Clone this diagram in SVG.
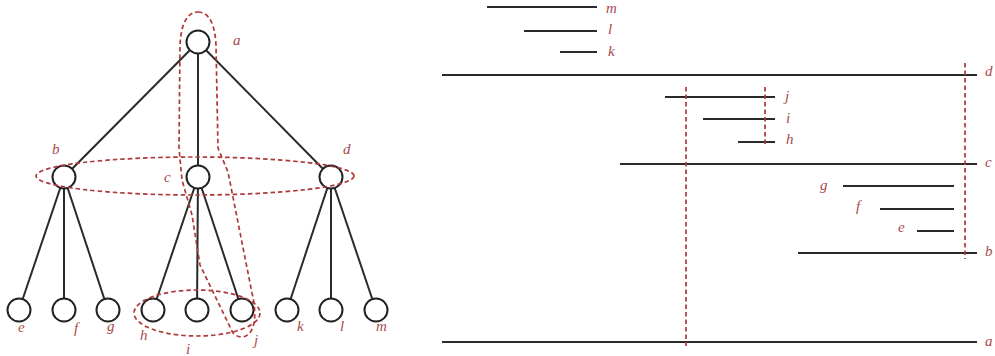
<svg xmlns="http://www.w3.org/2000/svg" width="995" height="356" viewBox="0 0 995 356">
<style>
.node{fill:#fff;stroke:#222;stroke-width:2}
.edge{stroke:#2a2a2a;stroke-width:2;fill:none}
.lbl{font-family:"Liberation Serif","DejaVu Serif",serif;font-style:italic;font-size:15px;fill:#a84a4a}
.dash{fill:none;stroke:#b03838;stroke-width:1.7;stroke-dasharray:4.5 3}
.iv{stroke:#2a2a2a;stroke-width:2}
</style>
<rect width="995" height="356" fill="#fff"/>
<g id="connectors">
<line class="edge" x1="198" y1="42" x2="64" y2="177"/>
<line class="edge" x1="198" y1="42" x2="198" y2="177"/>
<line class="edge" x1="198" y1="42" x2="331" y2="177"/>
<line class="edge" x1="64" y1="177" x2="19" y2="310"/>
<line class="edge" x1="64" y1="177" x2="64" y2="310"/>
<line class="edge" x1="64" y1="177" x2="108" y2="310"/>
<line class="edge" x1="198" y1="177" x2="153" y2="310"/>
<line class="edge" x1="198" y1="177" x2="197" y2="310"/>
<line class="edge" x1="198" y1="177" x2="242" y2="310"/>
<line class="edge" x1="331" y1="177" x2="287" y2="310"/>
<line class="edge" x1="331" y1="177" x2="331" y2="310"/>
<line class="edge" x1="331" y1="177" x2="376" y2="310"/>
</g>
<g id="node-a"><circle class="node" cx="198" cy="42" r="11.5"/><text class="lbl" x="233" y="45">a</text></g>
<g id="node-b"><circle class="node" cx="64" cy="177" r="11.5"/><text class="lbl" x="52" y="154">b</text></g>
<g id="node-c"><circle class="node" cx="198" cy="177" r="11.5"/><text class="lbl" x="164" y="182">c</text></g>
<g id="node-d"><circle class="node" cx="331" cy="177" r="11.5"/><text class="lbl" x="343" y="154">d</text></g>
<g id="node-e"><circle class="node" cx="19" cy="310" r="11.5"/><text class="lbl" x="18" y="332">e</text></g>
<g id="node-f"><circle class="node" cx="64" cy="310" r="11.5"/><text class="lbl" x="74" y="333">f</text></g>
<g id="node-g"><circle class="node" cx="108" cy="310" r="11.5"/><text class="lbl" x="107" y="331">g</text></g>
<g id="node-h"><circle class="node" cx="153" cy="310" r="11.5"/><text class="lbl" x="140" y="340">h</text></g>
<g id="node-i"><circle class="node" cx="197" cy="310" r="11.5"/><text class="lbl" x="186" y="354">i</text></g>
<g id="node-j"><circle class="node" cx="242" cy="310" r="11.5"/><text class="lbl" x="254" y="345">j</text></g>
<g id="node-k"><circle class="node" cx="287" cy="310" r="11.5"/><text class="lbl" x="297" y="331">k</text></g>
<g id="node-l"><circle class="node" cx="331" cy="310" r="11.5"/><text class="lbl" x="340" y="331">l</text></g>
<g id="node-m"><circle class="node" cx="376" cy="310" r="11.5"/><text class="lbl" x="376" y="331">m</text></g>
<g id="groups">
<ellipse class="dash" cx="195" cy="176" rx="159" ry="19"/>
<ellipse class="dash" cx="197" cy="313" rx="63" ry="23"/>
<path class="dash" d="M198 12 C209 12 215 24 216 45 L218 148 L228 172 L252 293 C258 318 254 336 242 337 C236 337 232 333 230 327 L200 265 L192 215 L182 180 L179 148 L180 45 C181 24 187 12 198 12 Z"/>
</g>
<g id="intervals">
<line class="iv" x1="487" y1="7" x2="597" y2="7"/>
<line class="iv" x1="524" y1="31" x2="597" y2="31"/>
<line class="iv" x1="560" y1="52" x2="597" y2="52"/>
<line class="iv" x1="442" y1="75" x2="977" y2="75"/>
<line class="iv" x1="665" y1="97" x2="775" y2="97"/>
<line class="iv" x1="703" y1="119" x2="775" y2="119"/>
<line class="iv" x1="738" y1="142" x2="775" y2="142"/>
<line class="iv" x1="620" y1="164" x2="977" y2="164"/>
<line class="iv" x1="843" y1="186" x2="954" y2="186"/>
<line class="iv" x1="880" y1="209" x2="954" y2="209"/>
<line class="iv" x1="917" y1="231" x2="954" y2="231"/>
<line class="iv" x1="798" y1="253" x2="977" y2="253"/>
<line class="iv" x1="442" y1="342" x2="977" y2="342"/>
<line class="dash" x1="686" y1="87" x2="686" y2="346"/>
<line class="dash" x1="765" y1="87" x2="765" y2="147"/>
<line class="dash" x1="965" y1="63" x2="965" y2="259"/>
<text class="lbl" x="606" y="13">m</text>
<text class="lbl" x="608" y="34">l</text>
<text class="lbl" x="608" y="56">k</text>
<text class="lbl" x="785" y="101">j</text>
<text class="lbl" x="786" y="123">i</text>
<text class="lbl" x="786" y="144">h</text>
<text class="lbl" x="820" y="190">g</text>
<text class="lbl" x="856" y="211">f</text>
<text class="lbl" x="898" y="232">e</text>
<text class="lbl" x="985" y="76">d</text>
<text class="lbl" x="985" y="167">c</text>
<text class="lbl" x="985" y="256">b</text>
<text class="lbl" x="985" y="346">a</text>
</g>
</svg>
